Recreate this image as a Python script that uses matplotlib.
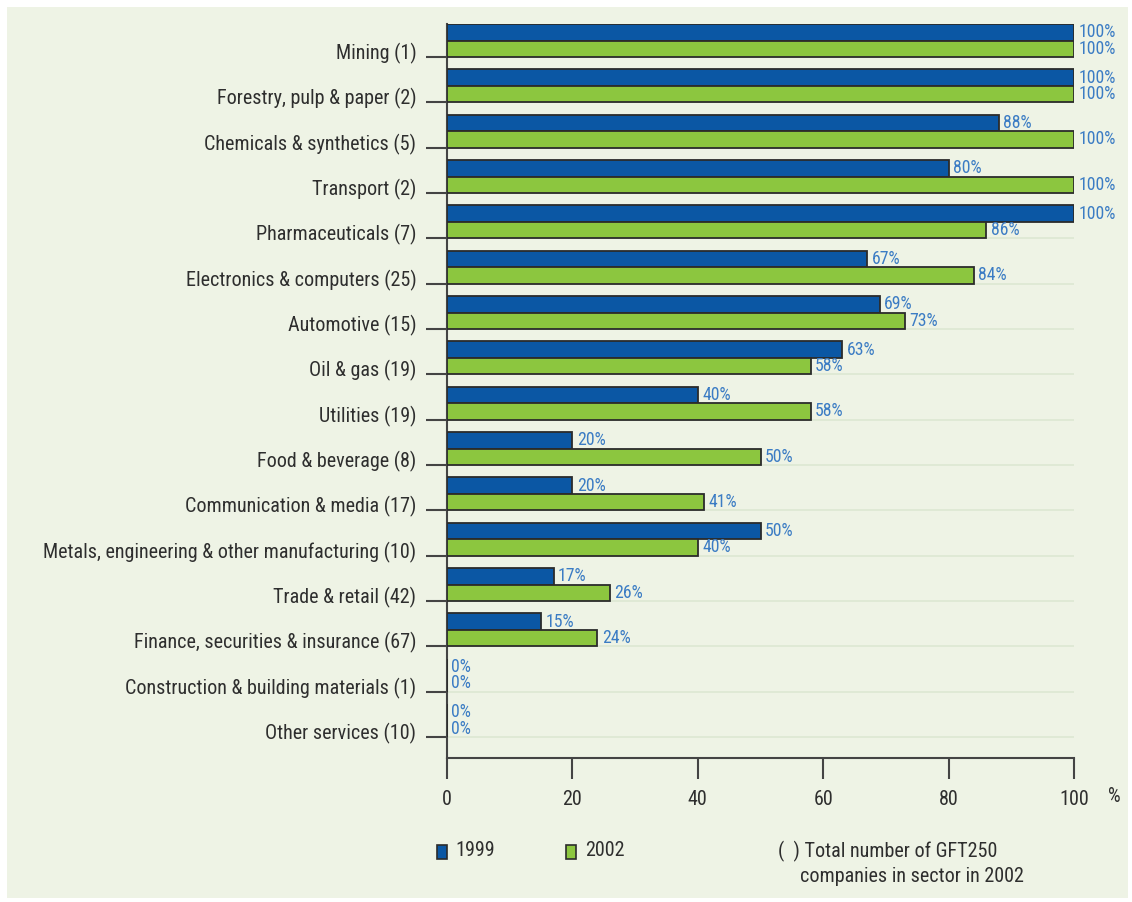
import numpy as np
import matplotlib
matplotlib.use("Agg")
import matplotlib.pyplot as plt
import matplotlib.transforms as mtrans
from matplotlib.patches import Rectangle

plt.rcParams['font.family'] = ['Liberation Sans Narrow', 'Roboto Condensed',
                               'Roboto', 'DejaVu Sans']

sectors = [
    "Mining (1)",
    "Forestry, pulp & paper (2)",
    "Chemicals & synthetics (5)",
    "Transport (2)",
    "Pharmaceuticals (7)",
    "Electronics & computers (25)",
    "Automotive (15)",
    "Oil & gas (19)",
    "Utilities (19)",
    "Food & beverage (8)",
    "Communication & media (17)",
    "Metals, engineering & other manufacturing (10)",
    "Trade & retail (42)",
    "Finance, securities & insurance (67)",
    "Construction & building materials (1)",
    "Other services (10)",
]
v1999 = [100, 100, 88, 80, 100, 67, 69, 63, 40, 20, 20, 50, 17, 15, 0, 0]
v2002 = [100, 100, 100, 100, 86, 84, 73, 58, 58, 50, 41, 40, 26, 24, 0, 0]
xticks = [0, 20, 40, 60, 80, 100]

BLUE = '#0b57a4'
GREEN = '#8cc63f'
BG = '#eef3e5'
TXT = '#2e2e2e'
LBL = '#3b7cc4'
SPINE = '#444444'
FS = 14.5

W, H = 1132, 902
fig = plt.figure(figsize=(W / 100, H / 100), dpi=100)
fig.patch.set_facecolor('white')
# light panel behind everything
fig.patches.append(Rectangle((7 / W, 4 / H), (1128 - 7) / W, (898 - 7) / H,
                             transform=fig.transFigure, facecolor=BG,
                             edgecolor='none', zorder=-5))

ax = fig.add_axes([447 / W, (H - 758) / H, 627 / W, 734 / H])
ax.set_facecolor('none')
ax.set_zorder(2)

n = len(sectors)
y = np.arange(n)
h = 0.364
ax.barh(y - 1.5 * h, v1999, height=h, align='center', color=BLUE,
        edgecolor='#2b2b2b', linewidth=1.3, zorder=3)
ax.barh(y - 0.5 * h, v2002, height=h, align='center', color=GREEN,
        edgecolor='#2b2b2b', linewidth=1.3, zorder=3)

for i in range(n):
    ax.text(v1999[i] + 0.7, y[i] - 1.5 * h, f"{v1999[i]}%", color=LBL,
            fontsize=12.8, va='center', ha='left', zorder=4)
    ax.text(v2002[i] + 0.7, y[i] - 0.5 * h, f"{v2002[i]}%", color=LBL,
            fontsize=12.8, va='center', ha='left', zorder=4)

# faint separators at each sector
for yy in y:
    ax.axhline(yy, color='#dde7d2', linewidth=1.2, zorder=1)

ax.set_xlim(0, 100)
ax.set_ylim(n - 1 + 0.463, -2 * h)
ax.set_yticks(y)
ax.set_yticklabels(sectors, fontsize=FS, color=TXT)
ax.set_xticks(xticks)
ax.set_xticklabels([str(t) for t in xticks], fontsize=FS, color=TXT)
ax.tick_params(axis='y', length=15, width=1.5, color=SPINE, pad=7)
ax.tick_params(axis='x', length=15, width=1.5, color=SPINE, pad=8)

# sector names sit slightly above their tick
shift = mtrans.ScaledTranslation(0, 6 / 100, fig.dpi_scale_trans)
for lab in ax.get_yticklabels():
    lab.set_transform(lab.get_transform() + shift)

for s in ['top', 'right']:
    ax.spines[s].set_visible(False)
for s in ['left', 'bottom']:
    ax.spines[s].set_color(SPINE)
    ax.spines[s].set_linewidth(1.5)

fig.text(1108 / W, 1 - 797 / H, "%", fontsize=FS, color=TXT,
         ha='left', va='center')

# legend
fig.patches.append(Rectangle((437 / W, 1 - 859 / H), 10 / W, 14 / H,
                             transform=fig.transFigure, facecolor=BLUE,
                             edgecolor='#2b2b2b', linewidth=1.2))
fig.text(455 / W, 1 - 851 / H, "1999", fontsize=FS, color=TXT,
         ha='left', va='center')
fig.patches.append(Rectangle((566 / W, 1 - 859 / H), 10 / W, 14 / H,
                             transform=fig.transFigure, facecolor=GREEN,
                             edgecolor='#2b2b2b', linewidth=1.2))
fig.text(585 / W, 1 - 851 / H, "2002", fontsize=FS, color=TXT,
         ha='left', va='center')
fig.text(778 / W, 1 - 851 / H, "(  ) Total number of GFT250", fontsize=FS,
         color=TXT, ha='left', va='center')
fig.text(800 / W, 1 - 876 / H, "companies in sector in 2002", fontsize=FS,
         color=TXT, ha='left', va='center')

fig.savefig("out.png", dpi=100, facecolor=fig.get_facecolor())
